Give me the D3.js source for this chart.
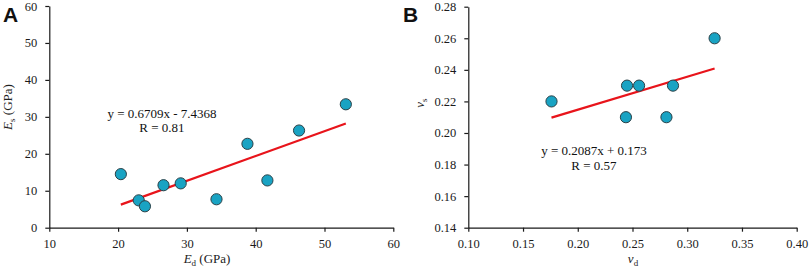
<!DOCTYPE html>
<html>
<head>
<meta charset="utf-8">
<script src="https://cdn.jsdelivr.net/npm/d3@7"></script>
<style>
body { margin: 0; background: #fff; }
svg { display: block; }
.tick text { font-family: "Liberation Serif", "Times New Roman", serif; font-size: 12.5px; fill: #1a1a1a; }
.domain, .tick line { stroke: #1a1a1a; stroke-width: 1.2px; }
</style>
</head>
<body>
<svg id="chart" width="809" height="269"></svg>
<script>
// Panel A data: dynamic vs static Young's modulus (GPa)
const edA = [20.4, 23.0, 23.9, 26.6, 29.1, 34.3, 38.8, 41.7, 46.3, 53.1];
const esA = [14.5, 7.4, 5.8, 11.5, 12.0, 7.7, 22.7, 12.8, 26.3, 33.4];
const xTicksA = [10, 20, 30, 40, 50, 60];
const yTicksA = [0, 10, 20, 30, 40, 50, 60];
const fitA = { slope: 0.6709, intercept: -7.4368 };
const eqA = ["y = 0.6709x - 7.4368", "R = 0.81"];

// Panel B data: dynamic vs static Poisson's ratio
const vdB = [0.176, 0.245, 0.256, 0.287, 0.244, 0.281, 0.325];
const vsB = [0.22, 0.23, 0.23, 0.23, 0.21, 0.21, 0.26];
const xTicksB = [0.10, 0.15, 0.20, 0.25, 0.30, 0.35, 0.40];
const yTicksB = [0.14, 0.16, 0.18, 0.20, 0.22, 0.24, 0.26, 0.28];
const fitB = { slope: 0.2087, intercept: 0.173 };
const eqB = ["y = 0.2087x + 0.173", "R = 0.57"];

const svg = d3.select("#chart");
const serif = '"Liberation Serif", "Times New Roman", serif';
const markerFill = "#19a3c3";
const markerStroke = "#2a4148";

function panel(cfg) {
  const x = d3.scaleLinear().domain(cfg.xDomain).range(cfg.xRange);
  const y = d3.scaleLinear().domain(cfg.yDomain).range(cfg.yRange);
  const g = svg.append("g");

  g.append("g")
    .attr("transform", `translate(0,${cfg.yRange[0]})`)
    .call(d3.axisBottom(x).tickValues(cfg.xTicks).tickFormat(cfg.fmt).tickSize(4).tickPadding(7).tickSizeOuter(0));
  g.append("g")
    .attr("transform", `translate(${cfg.xRange[0]},0)`)
    .call(d3.axisLeft(y).tickValues(cfg.yTicks).tickFormat(cfg.yfmt).tickSize(4).tickPadding(8).tickSizeOuter(0));

  // trend line
  const xmin = d3.min(cfg.xs), xmax = d3.max(cfg.xs);
  g.append("line")
    .attr("x1", x(xmin)).attr("y1", y(cfg.fit.slope * xmin + cfg.fit.intercept))
    .attr("x2", x(xmax)).attr("y2", y(cfg.fit.slope * xmax + cfg.fit.intercept))
    .attr("stroke", "#e8141b").attr("stroke-width", 2.2);

  // points
  g.selectAll("circle.pt").data(cfg.xs.map((v, i) => [v, cfg.ys[i]]))
    .enter().append("circle")
    .attr("class", "pt")
    .attr("cx", d => x(d[0])).attr("cy", d => y(d[1])).attr("r", 5.6)
    .attr("fill", markerFill).attr("stroke", markerStroke).attr("stroke-width", 1);

  // equation
  cfg.eq.forEach((t, i) => {
    g.append("text").attr("x", cfg.eqPos[0]).attr("y", cfg.eqPos[1] + i * 14.5)
      .attr("text-anchor", "middle")
      .style("font-family", serif).style("font-size", "13px").style("fill", "#111")
      .text(t);
  });

  // panel letter
  g.append("text").attr("x", cfg.letterPos[0]).attr("y", cfg.letterPos[1])
    .style("font-family", '"Liberation Sans", Arial, sans-serif')
    .style("font-weight", "bold").style("font-size", "21px").style("fill", "#111")
    .text(cfg.letter);

  // x label
  const xl = g.append("text").attr("x", cfg.xLabelPos[0]).attr("y", cfg.xLabelPos[1])
    .attr("text-anchor", "middle")
    .style("font-family", serif).style("font-size", "13px").style("fill", "#222");
  xl.append("tspan").style("font-style", "italic").text(cfg.xLabel[0]);
  xl.append("tspan").attr("dy", 3).style("font-size", "9px").text(cfg.xLabel[1]);
  if (cfg.xLabel[2]) xl.append("tspan").attr("dy", -3).text(cfg.xLabel[2]);

  // y label
  const yl = g.append("text")
    .attr("transform", `translate(${cfg.yLabelPos[0]},${cfg.yLabelPos[1]}) rotate(-90)`)
    .attr("text-anchor", "middle")
    .style("font-family", serif).style("font-size", "13px").style("fill", "#222");
  yl.append("tspan").style("font-style", "italic").text(cfg.yLabel[0]);
  yl.append("tspan").attr("dy", 3).style("font-size", "9px").text(cfg.yLabel[1]);
  if (cfg.yLabel[2]) yl.append("tspan").attr("dy", -3).text(cfg.yLabel[2]);
}

panel({
  xs: edA, ys: esA, xDomain: [10, 60], yDomain: [0, 60],
  xRange: [49.3, 393.3], yRange: [227.7, 6],
  xTicks: xTicksA, yTicks: yTicksA, fmt: d3.format("d"), yfmt: d3.format("d"),
  fit: fitA, eq: eqA, eqPos: [162, 117.5],
  letter: "A", letterPos: [3, 22],
  xLabel: ["E", "d", " (GPa)"], xLabelPos: [207, 263],
  yLabel: ["E", "s", " (GPa)"], yLabelPos: [12, 107]
});

panel({
  xs: vdB, ys: vsB, xDomain: [0.10, 0.40], yDomain: [0.14, 0.28],
  xRange: [468.3, 796.7], yRange: [227.7, 6.7],
  xTicks: xTicksB, yTicks: yTicksB, fmt: d3.format(".2f"), yfmt: d3.format(".2f"),
  fit: fitB, eq: eqB, eqPos: [594, 155],
  letter: "B", letterPos: [403, 22],
  xLabel: ["ν", "d", ""], xLabelPos: [633, 263],
  yLabel: ["ν", "s", ""], yLabelPos: [424, 103]
});
</script>
</body>
</html>
